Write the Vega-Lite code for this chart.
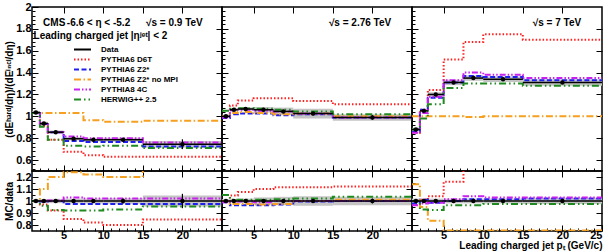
{
"$schema": "https://vega.github.io/schema/vega-lite/v6.json",
"padding": {"left": 3, "top": 0, "right": 0, "bottom": 0},
"background": "white",
"config": {
  "font": "Liberation Sans",
  "view": {"stroke": "#000", "strokeWidth": 1.5},
  "axis": {"domain": false, "grid": false, "tickColor": "#000", "tickSize": -6, "tickWidth": 1, "labelFont": "Liberation Sans", "labelFontSize": 11, "labelFontWeight": "bold", "labelColor": "#000", "labelPadding": 4, "labelOverlap": false, "titleFont": "Liberation Sans", "titleFontSize": 10, "titleFontWeight": "bold", "titleColor": "#000"},
  "axisY": {"labelPadding": 7, "titlePadding": 1, "labelFlush": false},
  "legend": {"padding": 0, "symbolType": "M-2,0H2", "symbolSize": 72, "symbolStrokeWidth": 2, "labelFont": "Liberation Sans", "labelFontSize": 8, "labelFontWeight": "bold", "labelColor": "#000", "labelOffset": 13, "rowPadding": 0}
},
"datasets": {"all": [
{"k":"m","e":"0.9","p":"t","x":1,"D6T":1.03,"Z2":1.03,"noMPI":1.03,"C4":1.03,"HW":1.03},
{"k":"m","e":"0.9","p":"t","x":2,"D6T":0.91,"Z2":0.93,"noMPI":1.03,"C4":0.93,"HW":0.905},
{"k":"m","e":"0.9","p":"t","x":3,"D6T":0.785,"Z2":0.855,"noMPI":1.03,"C4":0.855,"HW":0.785},
{"k":"m","e":"0.9","p":"t","x":5,"D6T":0.675,"Z2":0.775,"noMPI":1.03,"C4":0.815,"HW":0.73},
{"k":"m","e":"0.9","p":"t","x":7.5,"D6T":0.645,"Z2":0.765,"noMPI":0.965,"C4":0.80,"HW":0.725},
{"k":"m","e":"0.9","p":"t","x":10,"D6T":0.63,"Z2":0.765,"noMPI":0.95,"C4":0.80,"HW":0.73},
{"k":"m","e":"0.9","p":"t","x":15,"D6T":0.63,"Z2":0.725,"noMPI":0.96,"C4":0.76,"HW":0.71},
{"k":"m","e":"0.9","p":"t","x":25,"D6T":0.63,"Z2":0.725,"noMPI":0.96,"C4":0.76,"HW":0.71},
{"k":"m","e":"0.9","p":"r","x":1,"D6T":1.0,"Z2":1.0,"noMPI":1.0,"C4":1.0,"HW":1.0},
{"k":"m","e":"0.9","p":"r","x":2,"D6T":0.97,"Z2":0.995,"noMPI":1.10,"C4":1.0,"HW":0.96},
{"k":"m","e":"0.9","p":"r","x":3,"D6T":0.92,"Z2":1.0,"noMPI":1.20,"C4":1.005,"HW":0.925},
{"k":"m","e":"0.9","p":"r","x":5,"D6T":0.85,"Z2":0.975,"noMPI":1.24,"C4":1.03,"HW":0.92},
{"k":"m","e":"0.9","p":"r","x":7.5,"D6T":0.82,"Z2":0.975,"noMPI":1.22,"C4":1.02,"HW":0.92},
{"k":"m","e":"0.9","p":"r","x":10,"D6T":0.80,"Z2":0.975,"noMPI":1.20,"C4":1.02,"HW":0.93},
{"k":"m","e":"0.9","p":"r","x":15,"D6T":0.845,"Z2":0.975,"noMPI":1.30,"C4":1.02,"HW":0.955},
{"k":"m","e":"0.9","p":"r","x":25,"D6T":0.845,"Z2":0.975,"noMPI":1.30,"C4":1.02,"HW":0.955},
{"k":"m","e":"2.76","p":"t","x":1,"D6T":1.0,"Z2":0.985,"noMPI":1.0,"C4":0.99,"HW":1.05},
{"k":"m","e":"2.76","p":"t","x":2,"D6T":1.10,"Z2":1.02,"noMPI":1.03,"C4":1.055,"HW":1.07},
{"k":"m","e":"2.76","p":"t","x":3,"D6T":1.145,"Z2":1.025,"noMPI":1.04,"C4":1.06,"HW":1.075},
{"k":"m","e":"2.76","p":"t","x":5,"D6T":1.165,"Z2":1.025,"noMPI":1.03,"C4":1.05,"HW":1.07},
{"k":"m","e":"2.76","p":"t","x":7.5,"D6T":1.165,"Z2":1.01,"noMPI":1.02,"C4":1.045,"HW":1.06},
{"k":"m","e":"2.76","p":"t","x":10,"D6T":1.14,"Z2":1.02,"noMPI":1.025,"C4":1.025,"HW":1.045},
{"k":"m","e":"2.76","p":"t","x":15,"D6T":1.11,"Z2":0.99,"noMPI":1.0,"C4":0.99,"HW":1.02},
{"k":"m","e":"2.76","p":"t","x":25,"D6T":1.11,"Z2":0.99,"noMPI":1.0,"C4":0.99,"HW":1.02},
{"k":"m","e":"2.76","p":"r","x":1,"D6T":1.0,"Z2":0.99,"noMPI":1.0,"C4":0.99,"HW":1.05},
{"k":"m","e":"2.76","p":"r","x":2,"D6T":1.045,"Z2":0.965,"noMPI":0.975,"C4":0.995,"HW":1.01},
{"k":"m","e":"2.76","p":"r","x":3,"D6T":1.075,"Z2":0.965,"noMPI":0.975,"C4":0.995,"HW":1.01},
{"k":"m","e":"2.76","p":"r","x":5,"D6T":1.10,"Z2":0.965,"noMPI":0.97,"C4":0.99,"HW":1.01},
{"k":"m","e":"2.76","p":"r","x":7.5,"D6T":1.115,"Z2":0.97,"noMPI":0.975,"C4":1.0,"HW":1.015},
{"k":"m","e":"2.76","p":"r","x":10,"D6T":1.115,"Z2":0.995,"noMPI":1.0,"C4":1.0,"HW":1.02},
{"k":"m","e":"2.76","p":"r","x":15,"D6T":1.12,"Z2":1.0,"noMPI":1.01,"C4":1.0,"HW":1.035},
{"k":"m","e":"2.76","p":"r","x":25,"D6T":1.12,"Z2":1.0,"noMPI":1.01,"C4":1.0,"HW":1.035},
{"k":"m","e":"7","p":"t","x":1,"D6T":0.85,"Z2":0.86,"noMPI":1.0,"C4":0.85,"HW":0.88},
{"k":"m","e":"7","p":"t","x":2,"D6T":1.06,"Z2":1.06,"noMPI":1.0,"C4":1.03,"HW":0.98},
{"k":"m","e":"7","p":"t","x":3,"D6T":1.24,"Z2":1.17,"noMPI":1.0,"C4":1.18,"HW":1.11},
{"k":"m","e":"7","p":"t","x":5,"D6T":1.52,"Z2":1.31,"noMPI":1.0,"C4":1.33,"HW":1.26},
{"k":"m","e":"7","p":"t","x":7.5,"D6T":1.68,"Z2":1.37,"noMPI":0.995,"C4":1.40,"HW":1.30},
{"k":"m","e":"7","p":"t","x":10,"D6T":1.75,"Z2":1.36,"noMPI":1.0,"C4":1.38,"HW":1.30},
{"k":"m","e":"7","p":"t","x":15,"D6T":1.70,"Z2":1.33,"noMPI":1.0,"C4":1.35,"HW":1.28},
{"k":"m","e":"7","p":"t","x":25,"D6T":1.70,"Z2":1.33,"noMPI":1.0,"C4":1.35,"HW":1.28},
{"k":"m","e":"7","p":"r","x":1,"D6T":0.97,"Z2":0.98,"noMPI":1.14,"C4":0.965,"HW":1.0},
{"k":"m","e":"7","p":"r","x":2,"D6T":1.01,"Z2":1.01,"noMPI":0.95,"C4":0.98,"HW":0.93},
{"k":"m","e":"7","p":"r","x":3,"D6T":1.04,"Z2":0.985,"noMPI":0.835,"C4":0.985,"HW":0.925},
{"k":"m","e":"7","p":"r","x":5,"D6T":1.16,"Z2":1.0,"noMPI":0.755,"C4":1.015,"HW":0.965},
{"k":"m","e":"7","p":"r","x":7.5,"D6T":1.26,"Z2":1.015,"noMPI":0.755,"C4":1.04,"HW":0.965},
{"k":"m","e":"7","p":"r","x":10,"D6T":1.31,"Z2":1.015,"noMPI":0.755,"C4":1.03,"HW":0.975},
{"k":"m","e":"7","p":"r","x":15,"D6T":1.30,"Z2":1.02,"noMPI":0.755,"C4":1.03,"HW":0.975},
{"k":"m","e":"7","p":"r","x":25,"D6T":1.30,"Z2":1.02,"noMPI":0.755,"C4":1.03,"HW":0.975},
{"k":"d","e":"0.9","p":"t","x0":1,"x1":2,"xc":1.5,"y":1.035,"ylo":1.02,"yhi":1.05,"elo":1.025,"ehi":1.045},
{"k":"d","e":"0.9","p":"t","x0":2,"x1":3,"xc":2.5,"y":0.935,"ylo":0.92,"yhi":0.95,"elo":0.925,"ehi":0.945},
{"k":"d","e":"0.9","p":"t","x0":3,"x1":5,"xc":4,"y":0.855,"ylo":0.84,"yhi":0.87,"elo":0.845,"ehi":0.865},
{"k":"d","e":"0.9","p":"t","x0":5,"x1":7.5,"xc":6.25,"y":0.795,"ylo":0.78,"yhi":0.81,"elo":0.785,"ehi":0.805},
{"k":"d","e":"0.9","p":"t","x0":7.5,"x1":10,"xc":8.75,"y":0.785,"ylo":0.77,"yhi":0.80,"elo":0.773,"ehi":0.797},
{"k":"d","e":"0.9","p":"t","x0":10,"x1":15,"xc":12.5,"y":0.785,"ylo":0.767,"yhi":0.803,"elo":0.77,"ehi":0.80},
{"k":"d","e":"0.9","p":"t","x0":15,"x1":25,"xc":20,"y":0.745,"ylo":0.715,"yhi":0.775,"elo":0.70,"ehi":0.79},
{"k":"d","e":"0.9","p":"r","x0":1,"x1":2,"xc":1.5,"y":1,"ylo":0.985,"yhi":1.015,"elo":0.99,"ehi":1.01},
{"k":"d","e":"0.9","p":"r","x0":2,"x1":3,"xc":2.5,"y":1,"ylo":0.984,"yhi":1.016,"elo":0.99,"ehi":1.01},
{"k":"d","e":"0.9","p":"r","x0":3,"x1":5,"xc":4,"y":1,"ylo":0.982,"yhi":1.018,"elo":0.988,"ehi":1.012},
{"k":"d","e":"0.9","p":"r","x0":5,"x1":7.5,"xc":6.25,"y":1,"ylo":0.98,"yhi":1.02,"elo":0.987,"ehi":1.013},
{"k":"d","e":"0.9","p":"r","x0":7.5,"x1":10,"xc":8.75,"y":1,"ylo":0.98,"yhi":1.02,"elo":0.985,"ehi":1.015},
{"k":"d","e":"0.9","p":"r","x0":10,"x1":15,"xc":12.5,"y":1,"ylo":0.977,"yhi":1.023,"elo":0.98,"ehi":1.02},
{"k":"d","e":"0.9","p":"r","x0":15,"x1":25,"xc":20,"y":1,"ylo":0.955,"yhi":1.045,"elo":0.94,"ehi":1.06},
{"k":"d","e":"2.76","p":"t","x0":1,"x1":2,"xc":1.5,"y":1.0,"ylo":0.985,"yhi":1.015,"elo":0.99,"ehi":1.01},
{"k":"d","e":"2.76","p":"t","x0":2,"x1":3,"xc":2.5,"y":1.06,"ylo":1.045,"yhi":1.075,"elo":1.05,"ehi":1.07},
{"k":"d","e":"2.76","p":"t","x0":3,"x1":5,"xc":4,"y":1.067,"ylo":1.052,"yhi":1.082,"elo":1.057,"ehi":1.077},
{"k":"d","e":"2.76","p":"t","x0":5,"x1":7.5,"xc":6.25,"y":1.06,"ylo":1.035,"yhi":1.085,"elo":1.05,"ehi":1.07},
{"k":"d","e":"2.76","p":"t","x0":7.5,"x1":10,"xc":8.75,"y":1.045,"ylo":1.01,"yhi":1.08,"elo":1.033,"ehi":1.057},
{"k":"d","e":"2.76","p":"t","x0":10,"x1":15,"xc":12.5,"y":1.025,"ylo":0.98,"yhi":1.07,"elo":1.01,"ehi":1.04},
{"k":"d","e":"2.76","p":"t","x0":15,"x1":25,"xc":20,"y":0.99,"ylo":0.96,"yhi":1.02,"elo":0.97,"ehi":1.01},
{"k":"d","e":"2.76","p":"r","x0":1,"x1":2,"xc":1.5,"y":1,"ylo":0.985,"yhi":1.015,"elo":0.99,"ehi":1.01},
{"k":"d","e":"2.76","p":"r","x0":2,"x1":3,"xc":2.5,"y":1,"ylo":0.985,"yhi":1.015,"elo":0.99,"ehi":1.01},
{"k":"d","e":"2.76","p":"r","x0":3,"x1":5,"xc":4,"y":1,"ylo":0.98,"yhi":1.02,"elo":0.99,"ehi":1.01},
{"k":"d","e":"2.76","p":"r","x0":5,"x1":7.5,"xc":6.25,"y":1,"ylo":0.97,"yhi":1.03,"elo":0.99,"ehi":1.01},
{"k":"d","e":"2.76","p":"r","x0":7.5,"x1":10,"xc":8.75,"y":1,"ylo":0.965,"yhi":1.035,"elo":0.988,"ehi":1.012},
{"k":"d","e":"2.76","p":"r","x0":10,"x1":15,"xc":12.5,"y":1,"ylo":0.96,"yhi":1.04,"elo":0.985,"ehi":1.015},
{"k":"d","e":"2.76","p":"r","x0":15,"x1":25,"xc":20,"y":1,"ylo":0.965,"yhi":1.035,"elo":0.98,"ehi":1.02},
{"k":"d","e":"7","p":"t","x0":1,"x1":2,"xc":1.5,"y":0.88,"ylo":0.865,"yhi":0.895,"elo":0.87,"ehi":0.89},
{"k":"d","e":"7","p":"t","x0":2,"x1":3,"xc":2.5,"y":1.05,"ylo":1.035,"yhi":1.065,"elo":1.04,"ehi":1.06},
{"k":"d","e":"7","p":"t","x0":3,"x1":5,"xc":4,"y":1.20,"ylo":1.18,"yhi":1.22,"elo":1.19,"ehi":1.21},
{"k":"d","e":"7","p":"t","x0":5,"x1":7.5,"xc":6.25,"y":1.31,"ylo":1.285,"yhi":1.335,"elo":1.298,"ehi":1.322},
{"k":"d","e":"7","p":"t","x0":7.5,"x1":10,"xc":8.75,"y":1.35,"ylo":1.325,"yhi":1.375,"elo":1.338,"ehi":1.362},
{"k":"d","e":"7","p":"t","x0":10,"x1":15,"xc":12.5,"y":1.34,"ylo":1.315,"yhi":1.365,"elo":1.328,"ehi":1.352},
{"k":"d","e":"7","p":"t","x0":15,"x1":25,"xc":20,"y":1.31,"ylo":1.28,"yhi":1.34,"elo":1.295,"ehi":1.325},
{"k":"d","e":"7","p":"r","x0":1,"x1":2,"xc":1.5,"y":1,"ylo":0.98,"yhi":1.02,"elo":0.988,"ehi":1.012},
{"k":"d","e":"7","p":"r","x0":2,"x1":3,"xc":2.5,"y":1,"ylo":0.98,"yhi":1.02,"elo":0.99,"ehi":1.01},
{"k":"d","e":"7","p":"r","x0":3,"x1":5,"xc":4,"y":1,"ylo":0.98,"yhi":1.02,"elo":0.99,"ehi":1.01},
{"k":"d","e":"7","p":"r","x0":5,"x1":7.5,"xc":6.25,"y":1,"ylo":0.98,"yhi":1.02,"elo":0.99,"ehi":1.01},
{"k":"d","e":"7","p":"r","x0":7.5,"x1":10,"xc":8.75,"y":1,"ylo":0.98,"yhi":1.02,"elo":0.99,"ehi":1.01},
{"k":"d","e":"7","p":"r","x0":10,"x1":15,"xc":12.5,"y":1,"ylo":0.98,"yhi":1.02,"elo":0.99,"ehi":1.01},
{"k":"d","e":"7","p":"r","x0":15,"x1":25,"xc":20,"y":1,"ylo":0.975,"yhi":1.025,"elo":0.988,"ehi":1.012},
{"k":"a","e":"0.9","p":"t","tx":2.4,"ty":1.855,"t":"CMS"},
{"k":"a","e":"0.9","p":"t","tx":5.4,"ty":1.855,"t":"-6.6 < η < -5.2"},
{"k":"a","e":"0.9","p":"t","tx":15.4,"ty":1.855,"t":"√s = 0.9 TeV"},
{"k":"a","e":"0.9","p":"t","tx":1.2,"ty":1.736,"t":"Leading charged jet |ηʲᵉᵗ| < 2"},
{"k":"a","e":"2.76","p":"t","tx":14.5,"ty":1.855,"t":"√s = 2.76 TeV"},
{"k":"a","e":"7","p":"t","tx":16.25,"ty":1.855,"t":"√s = 7 TeV"}
]},
"data": {"name": "all"},
"columns": 3,
"spacing": 0,
"bounds": "flush",
"concat": [
{
  "width": 190, "height": 164,
  "transform": [{"filter": "datum.e=='0.9' && datum.p=='t'"}],
  "resolve": {"axis": {"x": "independent", "y": "independent"}},
  "layer": [
    {"transform": [{"filter": "datum.k=='d'"}], "mark": {"type": "rect", "color": "#c4c4c4"},
     "encoding": {
       "x": {"field": "x0", "type": "quantitative", "scale": {"domain": [1, 25], "nice": false, "zero": false}, "axis": {"values": [5, 10, 15, 20], "labels": false, "title": null}},
       "x2": {"field": "x1"},
       "y": {"field": "ylo", "type": "quantitative", "scale": {"domain": [0.5, 2], "nice": false, "zero": false}, "axis": {"values": [0.6, 0.8, 1, 1.2, 1.4, 1.6, 1.8, 2], "format": "~g", "title": "(dEʰᵃʳᵈ/dη)/(dEⁱⁿᶜˡ/dη)"}},
       "y2": {"field": "yhi"}}},
    {"transform": [{"filter": "datum.k=='m'"}, {"fold": ["D6T", "Z2", "noMPI", "C4", "HW"], "as": ["s", "v"]}],
     "mark": {"type": "line", "interpolate": "step-after", "clip": true, "strokeWidth": 2},
     "encoding": {
       "x": {"field": "x", "type": "quantitative", "axis": {"orient": "top", "values": [5, 10, 15, 20], "labels": false, "title": null}},
       "y": {"field": "v", "type": "quantitative", "axis": {"orient": "right", "values": [0.6, 0.8, 1, 1.2, 1.4, 1.6, 1.8], "labels": false, "title": null}},
       "color": {"field": "s", "type": "nominal", "scale": {"domain": ["Data", "D6T", "Z2", "noMPI", "C4", "HW"], "range": ["#000000", "#ff2020", "#2020ee", "#f5a020", "#c820ee", "#1f8a1f"]},
         "legend": {"orient": "none", "legendX": 45, "legendY": 37, "title": null, "labelExpr": "datum.label=='D6T'?'PYTHIA6 D6T':datum.label=='Z2'?'PYTHIA6 Z2*':datum.label=='noMPI'?'PYTHIA6 Z2* no MPI':datum.label=='C4'?'PYTHIA8 4C':datum.label=='HW'?'HERWIG++ 2.5':datum.label"}},
       "strokeDash": {"field": "s", "type": "nominal", "scale": {"domain": ["Data", "D6T", "Z2", "noMPI", "C4", "HW"], "range": [[1, 0], [1.5, 2], [5, 2.5], [7, 2.5, 1.5, 2.5], [6, 2, 1.5, 2, 1.5, 2], [7, 3, 1.5, 3, 1.5, 3]]},
         "legend": {"orient": "none", "legendX": 45, "legendY": 37, "title": null, "labelExpr": "datum.label=='D6T'?'PYTHIA6 D6T':datum.label=='Z2'?'PYTHIA6 Z2*':datum.label=='noMPI'?'PYTHIA6 Z2* no MPI':datum.label=='C4'?'PYTHIA8 4C':datum.label=='HW'?'HERWIG++ 2.5':datum.label"}}}},
    {"transform": [{"filter": "datum.k=='d'"}], "mark": {"type": "rule", "color": "#000", "strokeWidth": 1.5},
     "encoding": {"x": {"field": "x0", "type": "quantitative", "axis": {"values": [2,3,4,6,7,8,9,11,12,13,14,16,17,18,19,21,22,23,24], "labels": false, "title": null, "tickSize": -3}}, "x2": {"field": "x1"},
       "y": {"field": "y", "type": "quantitative", "axis": {"values": [0.52,0.56,0.64,0.68,0.72,0.76,0.84,0.88,0.92,0.96,1.04,1.08,1.12,1.16,1.24,1.28,1.32,1.36,1.44,1.48,1.52,1.56,1.64,1.68,1.72,1.76,1.84,1.88,1.92,1.96], "labels": false, "title": null, "tickSize": -3}}}},
    {"transform": [{"filter": "datum.k=='d'"}], "mark": {"type": "rule", "color": "#000", "strokeWidth": 1.2},
     "encoding": {"x": {"field": "xc", "type": "quantitative", "axis": null}, "y": {"field": "elo", "type": "quantitative", "axis": null}, "y2": {"field": "ehi"}}},
    {"transform": [{"filter": "datum.k=='d'"}], "mark": {"type": "point", "filled": true, "color": "#000", "size": 20, "opacity": 1},
     "encoding": {"x": {"field": "xc", "type": "quantitative", "axis": null}, "y": {"field": "y", "type": "quantitative", "axis": null}}},
    {"transform": [{"filter": "datum.k=='a'"}], "mark": {"type": "text", "align": "left", "baseline": "middle", "font": "Liberation Sans", "fontSize": 10, "fontWeight": "bold", "color": "#000"},
     "encoding": {"x": {"field": "tx", "type": "quantitative", "axis": null}, "y": {"field": "ty", "type": "quantitative", "axis": null}, "text": {"field": "t"}}}
  ]
},
{
  "width": 190, "height": 164,
  "transform": [{"filter": "datum.e=='2.76' && datum.p=='t'"}],
  "resolve": {"axis": {"x": "independent", "y": "independent"}},
  "layer": [
    {"transform": [{"filter": "datum.k=='d'"}], "mark": {"type": "rect", "color": "#c4c4c4"},
     "encoding": {
       "x": {"field": "x0", "type": "quantitative", "scale": {"domain": [1, 25], "nice": false, "zero": false}, "axis": {"values": [5, 10, 15, 20], "labels": false, "title": null}},
       "x2": {"field": "x1"},
       "y": {"field": "ylo", "type": "quantitative", "scale": {"domain": [0.5, 2], "nice": false, "zero": false}, "axis": {"values": [0.6, 0.8, 1, 1.2, 1.4, 1.6, 1.8], "labels": false, "title": null}},
       "y2": {"field": "yhi"}}},
    {"transform": [{"filter": "datum.k=='m'"}, {"fold": ["D6T", "Z2", "noMPI", "C4", "HW"], "as": ["s", "v"]}],
     "mark": {"type": "line", "interpolate": "step-after", "clip": true, "strokeWidth": 2},
     "encoding": {
       "x": {"field": "x", "type": "quantitative", "axis": {"orient": "top", "values": [5, 10, 15, 20], "labels": false, "title": null}},
       "y": {"field": "v", "type": "quantitative", "axis": {"orient": "right", "values": [0.6, 0.8, 1, 1.2, 1.4, 1.6, 1.8], "labels": false, "title": null}},
       "color": {"field": "s", "type": "nominal", "scale": {"domain": ["Data", "D6T", "Z2", "noMPI", "C4", "HW"], "range": ["#000000", "#ff2020", "#2020ee", "#f5a020", "#c820ee", "#1f8a1f"]}},
       "strokeDash": {"field": "s", "type": "nominal", "scale": {"domain": ["Data", "D6T", "Z2", "noMPI", "C4", "HW"], "range": [[1, 0], [1.5, 2], [5, 2.5], [7, 2.5, 1.5, 2.5], [6, 2, 1.5, 2, 1.5, 2], [7, 3, 1.5, 3, 1.5, 3]]}}}},
    {"transform": [{"filter": "datum.k=='d'"}], "mark": {"type": "rule", "color": "#000", "strokeWidth": 1.5},
     "encoding": {"x": {"field": "x0", "type": "quantitative", "axis": {"values": [2,3,4,6,7,8,9,11,12,13,14,16,17,18,19,21,22,23,24], "labels": false, "title": null, "tickSize": -3}}, "x2": {"field": "x1"},
       "y": {"field": "y", "type": "quantitative", "axis": {"values": [0.52,0.56,0.64,0.68,0.72,0.76,0.84,0.88,0.92,0.96,1.04,1.08,1.12,1.16,1.24,1.28,1.32,1.36,1.44,1.48,1.52,1.56,1.64,1.68,1.72,1.76,1.84,1.88,1.92,1.96], "labels": false, "title": null, "tickSize": -3}}}},
    {"transform": [{"filter": "datum.k=='d'"}], "mark": {"type": "rule", "color": "#000", "strokeWidth": 1.2},
     "encoding": {"x": {"field": "xc", "type": "quantitative", "axis": null}, "y": {"field": "elo", "type": "quantitative", "axis": null}, "y2": {"field": "ehi"}}},
    {"transform": [{"filter": "datum.k=='d'"}], "mark": {"type": "point", "filled": true, "color": "#000", "size": 20, "opacity": 1},
     "encoding": {"x": {"field": "xc", "type": "quantitative", "axis": null}, "y": {"field": "y", "type": "quantitative", "axis": null}}},
    {"transform": [{"filter": "datum.k=='a'"}], "mark": {"type": "text", "align": "left", "baseline": "middle", "font": "Liberation Sans", "fontSize": 10, "fontWeight": "bold", "color": "#000"},
     "encoding": {"x": {"field": "tx", "type": "quantitative", "axis": null}, "y": {"field": "ty", "type": "quantitative", "axis": null}, "text": {"field": "t"}}}
  ]
},
{
  "width": 190, "height": 164,
  "transform": [{"filter": "datum.e=='7' && datum.p=='t'"}],
  "resolve": {"axis": {"x": "independent", "y": "independent"}},
  "layer": [
    {"transform": [{"filter": "datum.k=='d'"}], "mark": {"type": "rect", "color": "#c4c4c4"},
     "encoding": {
       "x": {"field": "x0", "type": "quantitative", "scale": {"domain": [1, 25], "nice": false, "zero": false}, "axis": {"values": [5, 10, 15, 20], "labels": false, "title": null}},
       "x2": {"field": "x1"},
       "y": {"field": "ylo", "type": "quantitative", "scale": {"domain": [0.5, 2], "nice": false, "zero": false}, "axis": {"values": [0.6, 0.8, 1, 1.2, 1.4, 1.6, 1.8], "labels": false, "title": null}},
       "y2": {"field": "yhi"}}},
    {"transform": [{"filter": "datum.k=='m'"}, {"fold": ["D6T", "Z2", "noMPI", "C4", "HW"], "as": ["s", "v"]}],
     "mark": {"type": "line", "interpolate": "step-after", "clip": true, "strokeWidth": 2},
     "encoding": {
       "x": {"field": "x", "type": "quantitative", "axis": {"orient": "top", "values": [5, 10, 15, 20], "labels": false, "title": null}},
       "y": {"field": "v", "type": "quantitative", "axis": {"orient": "right", "values": [0.6, 0.8, 1, 1.2, 1.4, 1.6, 1.8], "labels": false, "title": null}},
       "color": {"field": "s", "type": "nominal", "scale": {"domain": ["Data", "D6T", "Z2", "noMPI", "C4", "HW"], "range": ["#000000", "#ff2020", "#2020ee", "#f5a020", "#c820ee", "#1f8a1f"]}},
       "strokeDash": {"field": "s", "type": "nominal", "scale": {"domain": ["Data", "D6T", "Z2", "noMPI", "C4", "HW"], "range": [[1, 0], [1.5, 2], [5, 2.5], [7, 2.5, 1.5, 2.5], [6, 2, 1.5, 2, 1.5, 2], [7, 3, 1.5, 3, 1.5, 3]]}}}},
    {"transform": [{"filter": "datum.k=='d'"}], "mark": {"type": "rule", "color": "#000", "strokeWidth": 1.5},
     "encoding": {"x": {"field": "x0", "type": "quantitative", "axis": {"values": [2,3,4,6,7,8,9,11,12,13,14,16,17,18,19,21,22,23,24], "labels": false, "title": null, "tickSize": -3}}, "x2": {"field": "x1"},
       "y": {"field": "y", "type": "quantitative", "axis": {"values": [0.52,0.56,0.64,0.68,0.72,0.76,0.84,0.88,0.92,0.96,1.04,1.08,1.12,1.16,1.24,1.28,1.32,1.36,1.44,1.48,1.52,1.56,1.64,1.68,1.72,1.76,1.84,1.88,1.92,1.96], "labels": false, "title": null, "tickSize": -3}}}},
    {"transform": [{"filter": "datum.k=='d'"}], "mark": {"type": "rule", "color": "#000", "strokeWidth": 1.2},
     "encoding": {"x": {"field": "xc", "type": "quantitative", "axis": null}, "y": {"field": "elo", "type": "quantitative", "axis": null}, "y2": {"field": "ehi"}}},
    {"transform": [{"filter": "datum.k=='d'"}], "mark": {"type": "point", "filled": true, "color": "#000", "size": 20, "opacity": 1},
     "encoding": {"x": {"field": "xc", "type": "quantitative", "axis": null}, "y": {"field": "y", "type": "quantitative", "axis": null}}},
    {"transform": [{"filter": "datum.k=='a'"}], "mark": {"type": "text", "align": "left", "baseline": "middle", "font": "Liberation Sans", "fontSize": 10, "fontWeight": "bold", "color": "#000"},
     "encoding": {"x": {"field": "tx", "type": "quantitative", "axis": null}, "y": {"field": "ty", "type": "quantitative", "axis": null}, "text": {"field": "t"}}}
  ]
},
{
  "width": 190, "height": 60,
  "transform": [{"filter": "datum.e=='0.9' && datum.p=='r'"}],
  "resolve": {"axis": {"x": "independent", "y": "independent"}},
  "layer": [
    {"transform": [{"filter": "datum.k=='d'"}], "mark": {"type": "rect", "color": "#c4c4c4"},
     "encoding": {
       "x": {"field": "x0", "type": "quantitative", "scale": {"domain": [1, 25], "nice": false, "zero": false}, "axis": {"values": [5, 10, 15, 20], "title": null}},
       "x2": {"field": "x1"},
       "y": {"field": "ylo", "type": "quantitative", "scale": {"domain": [0.75, 1.25], "nice": false, "zero": false}, "axis": {"values": [0.8, 0.9, 1, 1.1, 1.2], "format": "~g", "title": "MC/data"}},
       "y2": {"field": "yhi"}}},
    {"transform": [{"filter": "datum.k=='m'"}, {"fold": ["D6T", "Z2", "noMPI", "C4", "HW"], "as": ["s", "v"]}],
     "mark": {"type": "line", "interpolate": "step-after", "clip": true, "strokeWidth": 2},
     "encoding": {
       "x": {"field": "x", "type": "quantitative", "axis": {"orient": "top", "values": [5, 10, 15, 20], "labels": false, "title": null}},
       "y": {"field": "v", "type": "quantitative", "axis": {"orient": "right", "values": [0.8, 0.9, 1, 1.1, 1.2], "labels": false, "title": null}},
       "color": {"field": "s", "type": "nominal", "scale": {"domain": ["Data", "D6T", "Z2", "noMPI", "C4", "HW"], "range": ["#000000", "#ff2020", "#2020ee", "#f5a020", "#c820ee", "#1f8a1f"]}},
       "strokeDash": {"field": "s", "type": "nominal", "scale": {"domain": ["Data", "D6T", "Z2", "noMPI", "C4", "HW"], "range": [[1, 0], [1.5, 2], [5, 2.5], [7, 2.5, 1.5, 2.5], [6, 2, 1.5, 2, 1.5, 2], [7, 3, 1.5, 3, 1.5, 3]]}}}},
    {"transform": [{"filter": "datum.k=='d'"}], "mark": {"type": "rule", "color": "#000", "strokeWidth": 1.5},
     "encoding": {"x": {"field": "x0", "type": "quantitative", "axis": {"values": [2,3,4,6,7,8,9,11,12,13,14,16,17,18,19,21,22,23,24], "labels": false, "title": null, "tickSize": -3}}, "x2": {"field": "x1"},
       "y": {"field": "y", "type": "quantitative", "axis": {"values": [0.85, 0.95, 1.05, 1.15], "labels": false, "title": null, "tickSize": -3}}}},
    {"transform": [{"filter": "datum.k=='d'"}], "mark": {"type": "rule", "color": "#000", "strokeWidth": 1.2},
     "encoding": {"x": {"field": "xc", "type": "quantitative", "axis": null}, "y": {"field": "elo", "type": "quantitative", "axis": null}, "y2": {"field": "ehi"}}},
    {"transform": [{"filter": "datum.k=='d'"}], "mark": {"type": "point", "filled": true, "color": "#000", "size": 20, "opacity": 1},
     "encoding": {"x": {"field": "xc", "type": "quantitative", "axis": null}, "y": {"field": "y", "type": "quantitative", "axis": null}}}
  ]
},
{
  "width": 190, "height": 60,
  "transform": [{"filter": "datum.e=='2.76' && datum.p=='r'"}],
  "resolve": {"axis": {"x": "independent", "y": "independent"}},
  "layer": [
    {"transform": [{"filter": "datum.k=='d'"}], "mark": {"type": "rect", "color": "#c4c4c4"},
     "encoding": {
       "x": {"field": "x0", "type": "quantitative", "scale": {"domain": [1, 25], "nice": false, "zero": false}, "axis": {"values": [5, 10, 15, 20], "title": null}},
       "x2": {"field": "x1"},
       "y": {"field": "ylo", "type": "quantitative", "scale": {"domain": [0.75, 1.25], "nice": false, "zero": false}, "axis": {"values": [0.8, 0.9, 1, 1.1, 1.2], "labels": false, "title": null}},
       "y2": {"field": "yhi"}}},
    {"transform": [{"filter": "datum.k=='m'"}, {"fold": ["D6T", "Z2", "noMPI", "C4", "HW"], "as": ["s", "v"]}],
     "mark": {"type": "line", "interpolate": "step-after", "clip": true, "strokeWidth": 2},
     "encoding": {
       "x": {"field": "x", "type": "quantitative", "axis": {"orient": "top", "values": [5, 10, 15, 20], "labels": false, "title": null}},
       "y": {"field": "v", "type": "quantitative", "axis": {"orient": "right", "values": [0.8, 0.9, 1, 1.1, 1.2], "labels": false, "title": null}},
       "color": {"field": "s", "type": "nominal", "scale": {"domain": ["Data", "D6T", "Z2", "noMPI", "C4", "HW"], "range": ["#000000", "#ff2020", "#2020ee", "#f5a020", "#c820ee", "#1f8a1f"]}},
       "strokeDash": {"field": "s", "type": "nominal", "scale": {"domain": ["Data", "D6T", "Z2", "noMPI", "C4", "HW"], "range": [[1, 0], [1.5, 2], [5, 2.5], [7, 2.5, 1.5, 2.5], [6, 2, 1.5, 2, 1.5, 2], [7, 3, 1.5, 3, 1.5, 3]]}}}},
    {"transform": [{"filter": "datum.k=='d'"}], "mark": {"type": "rule", "color": "#000", "strokeWidth": 1.5},
     "encoding": {"x": {"field": "x0", "type": "quantitative", "axis": {"values": [2,3,4,6,7,8,9,11,12,13,14,16,17,18,19,21,22,23,24], "labels": false, "title": null, "tickSize": -3}}, "x2": {"field": "x1"},
       "y": {"field": "y", "type": "quantitative", "axis": {"values": [0.85, 0.95, 1.05, 1.15], "labels": false, "title": null, "tickSize": -3}}}},
    {"transform": [{"filter": "datum.k=='d'"}], "mark": {"type": "rule", "color": "#000", "strokeWidth": 1.2},
     "encoding": {"x": {"field": "xc", "type": "quantitative", "axis": null}, "y": {"field": "elo", "type": "quantitative", "axis": null}, "y2": {"field": "ehi"}}},
    {"transform": [{"filter": "datum.k=='d'"}], "mark": {"type": "point", "filled": true, "color": "#000", "size": 20, "opacity": 1},
     "encoding": {"x": {"field": "xc", "type": "quantitative", "axis": null}, "y": {"field": "y", "type": "quantitative", "axis": null}}}
  ]
},
{
  "width": 190, "height": 60,
  "transform": [{"filter": "datum.e=='7' && datum.p=='r'"}],
  "resolve": {"axis": {"x": "independent", "y": "independent"}},
  "layer": [
    {"transform": [{"filter": "datum.k=='d'"}], "mark": {"type": "rect", "color": "#c4c4c4"},
     "encoding": {
       "x": {"field": "x0", "type": "quantitative", "scale": {"domain": [1, 25], "nice": false, "zero": false}, "axis": {"values": [5, 10, 15, 20, 25], "title": "Leading charged jet pₜ (GeV/c)", "titleAnchor": "end", "titlePadding": 0}},
       "x2": {"field": "x1"},
       "y": {"field": "ylo", "type": "quantitative", "scale": {"domain": [0.75, 1.25], "nice": false, "zero": false}, "axis": {"values": [0.8, 0.9, 1, 1.1, 1.2], "labels": false, "title": null}},
       "y2": {"field": "yhi"}}},
    {"transform": [{"filter": "datum.k=='m'"}, {"fold": ["D6T", "Z2", "noMPI", "C4", "HW"], "as": ["s", "v"]}],
     "mark": {"type": "line", "interpolate": "step-after", "clip": true, "strokeWidth": 2},
     "encoding": {
       "x": {"field": "x", "type": "quantitative", "axis": {"orient": "top", "values": [5, 10, 15, 20], "labels": false, "title": null}},
       "y": {"field": "v", "type": "quantitative", "axis": {"orient": "right", "values": [0.8, 0.9, 1, 1.1, 1.2], "labels": false, "title": null}},
       "color": {"field": "s", "type": "nominal", "scale": {"domain": ["Data", "D6T", "Z2", "noMPI", "C4", "HW"], "range": ["#000000", "#ff2020", "#2020ee", "#f5a020", "#c820ee", "#1f8a1f"]}},
       "strokeDash": {"field": "s", "type": "nominal", "scale": {"domain": ["Data", "D6T", "Z2", "noMPI", "C4", "HW"], "range": [[1, 0], [1.5, 2], [5, 2.5], [7, 2.5, 1.5, 2.5], [6, 2, 1.5, 2, 1.5, 2], [7, 3, 1.5, 3, 1.5, 3]]}}}},
    {"transform": [{"filter": "datum.k=='d'"}], "mark": {"type": "rule", "color": "#000", "strokeWidth": 1.5},
     "encoding": {"x": {"field": "x0", "type": "quantitative", "axis": {"values": [2,3,4,6,7,8,9,11,12,13,14,16,17,18,19,21,22,23,24], "labels": false, "title": null, "tickSize": -3}}, "x2": {"field": "x1"},
       "y": {"field": "y", "type": "quantitative", "axis": {"values": [0.85, 0.95, 1.05, 1.15], "labels": false, "title": null, "tickSize": -3}}}},
    {"transform": [{"filter": "datum.k=='d'"}], "mark": {"type": "rule", "color": "#000", "strokeWidth": 1.2},
     "encoding": {"x": {"field": "xc", "type": "quantitative", "axis": null}, "y": {"field": "elo", "type": "quantitative", "axis": null}, "y2": {"field": "ehi"}}},
    {"transform": [{"filter": "datum.k=='d'"}], "mark": {"type": "point", "filled": true, "color": "#000", "size": 20, "opacity": 1},
     "encoding": {"x": {"field": "xc", "type": "quantitative", "axis": null}, "y": {"field": "y", "type": "quantitative", "axis": null}}}
  ]
}
]
}
